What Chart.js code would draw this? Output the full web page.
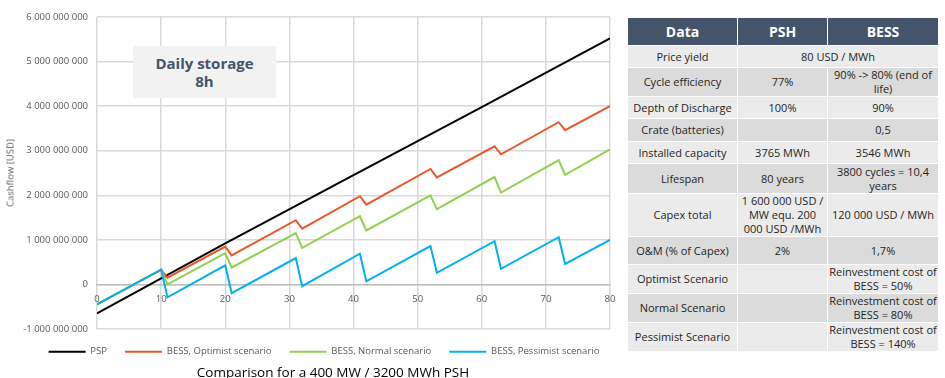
<!DOCTYPE html>
<html><head><meta charset="utf-8">
<script src="https://cdn.jsdelivr.net/npm/chart.js@4"></script>
<style>
html,body{margin:0;padding:0;background:#fff;}
body{width:945px;height:378px;position:relative;overflow:hidden;font-family:"Open Sans",sans-serif;}
#wrap{position:absolute;left:0;top:0;width:620px;height:378px;}
#ylab{position:absolute;left:10px;top:173px;transform:translate(-50%,-50%) rotate(-90deg);font-size:9.5px;color:#595959;white-space:nowrap;}
#note{position:absolute;left:133px;top:46px;width:143px;height:52px;background:#f2f2f2;color:#44546a;font-weight:700;font-size:15px;line-height:18px;text-align:center;display:flex;align-items:center;justify-content:center;}
table{position:absolute;left:627px;top:17px;width:311px;border-collapse:collapse;table-layout:fixed;font-size:11px;color:#1f1f1f;}
td,th{border:1px solid #fff;text-align:center;padding:0;line-height:14px;overflow:visible;white-space:nowrap;}
th{background:#44546a;color:#fff;font-size:14px;font-weight:700;}
tr.l td{background:#ebebeb;} tr.d td{background:#dbdbdb;}
</style></head>
<body>
<div id="wrap"><canvas id="c"></canvas></div>
<div id="ylab">Cashflow [USD]</div>
<div id="note">Daily storage<br>8h</div>
<table>
<colgroup><col style="width:110px"><col style="width:90px"><col style="width:111px"></colgroup>
<tr style="height:28px"><th>Data</th><th>PSH</th><th>BESS</th></tr>
<tr class="l" style="height:22px"><td>Price yield</td><td colspan="2">80 USD / MWh</td></tr>
<tr class="d" style="height:29px"><td>Cycle efficiency</td><td>77%</td><td>90% -&gt; 80% (end of<br>life)</td></tr>
<tr class="l" style="height:22px"><td>Depth of Discharge</td><td>100%</td><td>90%</td></tr>
<tr class="d" style="height:23px"><td>Crate (batteries)</td><td></td><td>0,5</td></tr>
<tr class="l" style="height:22px"><td>Installed capacity</td><td>3765 MWh</td><td>3546 MWh</td></tr>
<tr class="d" style="height:30px"><td>Lifespan</td><td>80 years</td><td>3800 cycles = 10,4<br>years</td></tr>
<tr class="l" style="height:43px"><td>Capex total</td><td>1 600 000 USD /<br>MW equ. 200<br>000 USD /MWh</td><td>120 000 USD / MWh</td></tr>
<tr class="d" style="height:28px"><td>O&amp;M (% of Capex)</td><td>2%</td><td>1,7%</td></tr>
<tr class="l" style="height:29px"><td>Optimist Scenario</td><td></td><td>Reinvestment cost of<br>BESS = 50%</td></tr>
<tr class="d" style="height:29px"><td>Normal Scenario</td><td></td><td>Reinvestment cost of<br>BESS = 80%</td></tr>
<tr class="l" style="height:28px"><td>Pessimist Scenario</td><td></td><td>Reinvestment cost of<br>BESS = 140%</td></tr>
</table>
<script>
const seriesNames = ['PSP', 'BESS, Optimist scenario', 'BESS, Normal scenario', 'BESS, Pessimist scenario'];
const seriesColors = ['#000000', '#e8582a', '#92d050', '#00b0f0'];
const pspYears = [0, 20, 40, 60, 80];
const pspValues = [-650e6, 920e6, 2450e6, 3980e6, 5520e6];
const bessYears = [0, 10, 11, 20, 21, 31, 32, 41, 42, 52, 53, 62, 63, 72, 73, 80];
const optimistValues = [-450e6, 330e6, 150e6, 850e6, 650e6, 1440e6, 1250e6, 1980e6, 1790e6, 2590e6, 2400e6, 3100e6, 2920e6, 3640e6, 3460e6, 4000e6];
const normalValues = [-450e6, 330e6, 0, 700e6, 380e6, 1150e6, 820e6, 1530e6, 1210e6, 2000e6, 1690e6, 2410e6, 2060e6, 2790e6, 2460e6, 3030e6];
const pessimistValues = [-450e6, 330e6, -290e6, 430e6, -195e6, 590e6, -40e6, 690e6, 70e6, 860e6, 260e6, 970e6, 350e6, 1060e6, 460e6, 1000e6];
const yMin = -1e9, yMax = 6e9, yStep = 1e9;
const xMin = 0, xMax = 80, xStep = 10;
const chartTitle = 'Comparison for a 400 MW / 3200 MWh PSH';

function pts(xs, ys) { return xs.map((x, i) => ({x: x, y: ys[i]})); }
function fmt(v) {
  const s = String(Math.abs(Math.round(v))).replace(/\B(?=(\d{3})+(?!\d))/g, ' ');
  return (v < 0 ? '-' : '') + s;
}
Chart.defaults.font.family = "'Open Sans', sans-serif";
const seriesData = [pts(pspYears, pspValues), pts(bessYears, optimistValues), pts(bessYears, normalValues), pts(bessYears, pessimistValues)];
const datasets = seriesNames.map((n, i) => ({
  label: n, data: seriesData[i], borderColor: seriesColors[i], backgroundColor: seriesColors[i],
  borderWidth: 2, pointRadius: 0, tension: 0, fill: false, order: 4 - i
}));
const shiftPlugin = {
  id: 'shiftBottom',
  afterLayout(chart) {
    const t = chart.titleBlock; if (t) { t.left += 18; t.right += 18; }
    const l = chart.legend; if (l) { l.left += 9; l.right += 9; }
  }
};
new Chart(document.getElementById('c'), {
  type: 'line',
  data: {datasets: datasets},
  plugins: [shiftPlugin],
  options: {
    responsive: true, maintainAspectRatio: false, animation: false,
    layout: {padding: {left: 20, right: 10, top: 17, bottom: 0}},
    scales: {
      x: {type: 'linear', min: xMin, max: xMax, position: {y: 0},
        ticks: {stepSize: xStep, color: '#595959', font: {size: 9.5}, padding: 9},
        grid: {color: '#d9d9d9', lineWidth: 1.5, drawTicks: false},
        border: {color: '#bfbfbf', width: 1.5},
        afterFit: s => { s.paddingLeft = 0; s.paddingRight = 0; }},
      y: {min: yMin, max: yMax,
        ticks: {stepSize: yStep, callback: fmt, color: '#595959', font: {size: 9.5}, padding: 9},
        grid: {color: '#d9d9d9', lineWidth: 1.5, drawTicks: false},
        border: {display: false},
        afterFit: s => { s.width = 77; }}
    },
    plugins: {
      legend: {position: 'bottom',
        labels: {usePointStyle: true, pointStyle: 'line', pointStyleWidth: 37, color: '#595959', font: {size: 9.5}, padding: 18,
          sort: (a, b) => a.datasetIndex - b.datasetIndex}},
      title: {display: true, position: 'bottom', text: chartTitle, color: '#000', font: {size: 13.5, weight: 'normal', lineHeight: 1}, padding: {top: 0, bottom: -2}},
      tooltip: {enabled: false}
    }
  }
});
</script>
</body></html>
